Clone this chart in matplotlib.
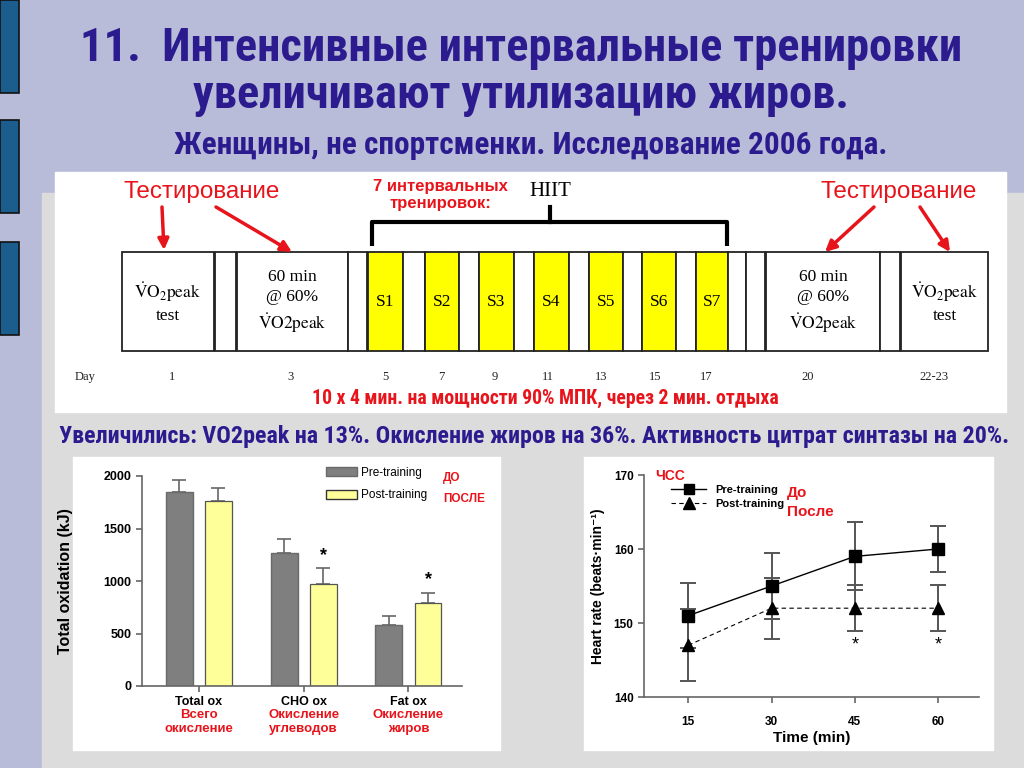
import matplotlib
matplotlib.use('Agg')
import matplotlib.pyplot as plt
from matplotlib.patches import Rectangle, Patch
from matplotlib.lines import Line2D

plt.rcParams['mathtext.fontset'] = 'stix'

W, H = 1024, 768
NARROW = ['Roboto Condensed', 'PT Sans Narrow', 'Liberation Sans', 'DejaVu Sans']
SANS = ['Liberation Sans', 'DejaVu Sans']
SERIF = ['Liberation Serif', 'DejaVu Serif']
TITLE_C = '#2b1b8f'
RED = '#e8141b'

# ---- text
title_lines = ['11.  Интенсивные интервальные тренировки',
               'увеличивают утилизацию жиров.']
subtitle = 'Женщины, не спортсменки. Исследование 2006 года.'
summary = ('Увеличились: VO2peak на 13%. Окисление жиров на 36%. '
           'Активность цитрат синтазы на 20%.')
protocol = '10 х 4 мин. на мощности 90% МПК, через 2 мин. отдыха'

# ---- timeline data
sessions = ['S1', 'S2', 'S3', 'S4', 'S5', 'S6', 'S7']
test_label = r'$\mathrm{\dot{V}O_2peak}$' + '\ntest'
steady_label = '60 min\n@ 60%\n' + r'$\mathrm{\dot{V}O2peak}$'
day_labels = ['Day', '1', '3', '5', '7', '9', '11', '13', '15', '17', '20', '22-23']

# ---- bar chart data
ox_categories = ['Total ox', 'CHO ox', 'Fat ox']
ox_categories_ru = ['Всего\nокисление', 'Окисление\nуглеводов', 'Окисление\nжиров']
ox_pre = [1850, 1265, 578]
ox_pre_err = [110, 135, 90]
ox_post = [1765, 975, 790]
ox_post_err = [120, 150, 100]
ox_signif = [False, True, True]

# ---- heart rate data
hr_time = [15, 30, 45, 60]
hr_pre = [151, 155, 159, 160]
hr_pre_err = [4.4, 4.5, 4.6, 3.1]
hr_post = [147, 152, 152, 152]
hr_post_err = [4.9, 4.1, 3.1, 3.1]
hr_signif = [False, False, True, True]

fig = plt.figure(figsize=(W / 100, H / 100), dpi=100)
bg = fig.add_axes([0, 0, 1, 1])
bg.set_xlim(0, W)
bg.set_ylim(H, 0)
bg.axis('off')

# slide background
bg.add_patch(Rectangle((0, 0), W, H, color='#b9bcd9', zorder=0))
bg.add_patch(Rectangle((42, 193), W - 42, H - 193, color='#dcdcdc', zorder=0))
for y0 in (0, 120, 242):
    bg.add_patch(Rectangle((0, y0), 19, 93, facecolor='#1b5e8e', edgecolor='#111',
                           lw=1.2, zorder=1))

# panels
bg.add_patch(Rectangle((55, 172), 951, 240, color='white', zorder=1))
bg.add_patch(Rectangle((73, 457), 427, 293, color='white', zorder=1))
bg.add_patch(Rectangle((584, 457), 409, 293, color='white', zorder=1))

# titles
bg.text(521, 48, title_lines[0], ha='center', va='center', fontsize=33.5,
        fontweight='bold', color=TITLE_C, family=NARROW)
bg.text(521, 95, title_lines[1], ha='center', va='center', fontsize=33.5,
        fontweight='bold', color=TITLE_C, family=NARROW)
bg.text(531, 145, subtitle, ha='center', va='center', fontsize=22.5,
        fontweight='bold', color=TITLE_C, family=NARROW)
bg.text(534, 437, summary, ha='center', va='center', fontsize=17.3,
        fontweight='bold', color=TITLE_C, family=NARROW)

# ---- timeline (layout in slide pixels)
tl_top, tl_bot = 252, 351
box_edges = [(122, 214), (215, 236), (237, 348), (348, 367),
             (368, 403), (403, 425), (425, 459), (459, 479), (479, 514),
             (514, 534), (534, 569), (569, 589), (589, 623), (623, 642),
             (642, 676), (676, 696), (696, 728), (728, 746), (746, 765),
             (766, 880), (880, 900), (901, 988)]
session_idx = [4, 6, 8, 10, 12, 14, 16]
labelled = {0: test_label, 2: steady_label, 19: steady_label, 21: test_label}
for i, (x0, x1) in enumerate(box_edges):
    fc = '#ffff00' if i in session_idx else 'white'
    bg.add_patch(Rectangle((x0, tl_top), x1 - x0, tl_bot - tl_top, facecolor=fc,
                           edgecolor='#222', lw=1.3, zorder=2))
    cx = (x0 + x1) / 2
    if i in session_idx:
        bg.text(cx, 302, sessions[session_idx.index(i)], ha='center', va='center',
                fontsize=12.5, family=SERIF, zorder=3)
    elif i in labelled:
        bg.text(cx, 302, labelled[i], ha='center', va='center', fontsize=12.5,
                family=SERIF, linespacing=1.35, zorder=3)

day_x = [85, 172, 291, 385, 441, 495, 548, 601, 655, 706, 808, 934]
for x, lab in zip(day_x, day_labels):
    bg.text(x, 377, lab, ha='center', va='center', fontsize=9, family=SERIF,
            color='#222', zorder=3)
bg.text(545, 398, protocol, ha='center', va='center', fontsize=14.2,
        fontweight='bold', color=RED, family=NARROW, zorder=3)

# bracket + HIIT
bg.plot([372, 372, 727, 727], [246, 222, 222, 246], color='black', lw=3,
        solid_capstyle='butt', zorder=3)
bg.plot([550, 550], [222, 207], color='black', lw=3, zorder=3)
bg.text(550, 191, 'HIIT', ha='center', va='center', fontsize=15, family=SERIF,
        zorder=3)
bg.text(440, 195, '7 интервальных\nтренировок:', ha='center', va='center',
        fontsize=12, fontweight='bold', color=RED, family=SANS, linespacing=1.1,
        zorder=3)

# testing labels with arrows
for tx in (202, 899):
    bg.text(tx, 192, 'Тестирование', ha='center', va='center', fontsize=17.5,
            color=RED, family=SANS, zorder=3)
arrows = [((162, 207), (164, 250)), ((216, 207), (292, 252)),
          ((874, 207), (825, 252)), ((920, 207), (950, 252))]
for start, end in arrows:
    bg.annotate('', xy=end, xytext=start, zorder=4,
                arrowprops=dict(arrowstyle='-|>', color=RED, lw=2.5,
                                mutation_scale=16, shrinkA=0, shrinkB=0))

# ---- bar chart
ax1 = fig.add_axes([142 / W, 1 - 686 / H, (462 - 142) / W, (686 - 476) / H])
ax1.patch.set_alpha(0)
xs = range(len(ox_categories))
off, bw = 0.186, 0.257
x_pre = [x - off for x in xs]
x_post = [x + off for x in xs]
ax1.bar(x_pre, ox_pre, bw, color='#7f7f7f', edgecolor='#6a6a6a', zorder=2)
ax1.bar(x_post, ox_post, bw, color='#ffff99', edgecolor='#555', lw=0.9, zorder=2)
ax1.errorbar(x_pre, ox_pre, yerr=[[0] * 3, ox_pre_err], fmt='none', ecolor='#666',
             capsize=5, elinewidth=1.2, capthick=1.2, zorder=1)
ax1.errorbar(x_post, ox_post, yerr=[[0] * 3, ox_post_err], fmt='none', ecolor='#666',
             capsize=5, elinewidth=1.2, capthick=1.2, zorder=1)
for x, v, e, s in zip(x_post, ox_post, ox_post_err, ox_signif):
    if s:
        ax1.text(x, v + e + 40, '*', ha='center', va='bottom', fontsize=13,
                 fontweight='bold', family=SANS)
ax1.set_xlim(-0.54, 2.51)
ax1.set_ylim(0, 2000)
ax1.set_yticks([0, 500, 1000, 1500, 2000])
ax1.set_xticks(list(xs))
ax1.set_xticklabels(ox_categories)
for sp in ('top', 'right'):
    ax1.spines[sp].set_visible(False)
for sp in ('left', 'bottom'):
    ax1.spines[sp].set_color('#666')
    ax1.spines[sp].set_linewidth(1.2)
ax1.tick_params(colors='#666', length=4, width=1.2)
for lab in ax1.get_xticklabels() + ax1.get_yticklabels():
    lab.set_fontweight('bold')
    lab.set_fontsize(9)
    lab.set_color('black')
    lab.set_family(SANS)
ax1.set_ylabel('Total oxidation (kJ)', fontsize=11.5, fontweight='bold',
               family=SANS, labelpad=22)
for x, lab in zip(xs, ox_categories_ru):
    ax1.text(x, -0.11, lab, transform=ax1.get_xaxis_transform(), ha='center',
             va='top', fontsize=9.5, fontweight='bold', color=RED, family=SANS,
             linespacing=1.25)
ax1.legend(handles=[Patch(facecolor='#7f7f7f', edgecolor='#6a6a6a'),
                    Patch(facecolor='#ffff99', edgecolor='#333')],
           labels=['Pre-training', 'Post-training'], loc='upper left',
           bbox_to_anchor=(0.575, 1.045), frameon=False,
           handlelength=2.6, handleheight=0.8, labelspacing=0.9, borderpad=0,
           borderaxespad=0, handletextpad=0.4, prop={'family': SANS, 'size': 8.5})
bg.text(443, 478, 'ДО', ha='left', va='center', fontsize=8.5, fontweight='bold',
        color=RED, family=SANS)
bg.text(443, 499, 'ПОСЛЕ', ha='left', va='center', fontsize=8.5, fontweight='bold',
        color=RED, family=SANS)

# ---- heart rate chart
ax2 = fig.add_axes([644 / W, 1 - 697 / H, (979 - 644) / W, (697 - 475) / H])
ax2.patch.set_alpha(0)
ax2.errorbar(hr_time, hr_pre, yerr=hr_pre_err, fmt='s-', color='black', ms=8,
             lw=1, ecolor='#555', elinewidth=1.4, capsize=6, capthick=1.4,
             label='Pre-training', zorder=3)
ax2.errorbar(hr_time, hr_post, yerr=hr_post_err, fmt='^--', color='black', ms=9,
             lw=0.8, ecolor='#555', elinewidth=1.4, capsize=6, capthick=1.4,
             dashes=(4, 3), label='Post-training', zorder=3)
for t, v, e, s in zip(hr_time, hr_post, hr_post_err, hr_signif):
    if s:
        ax2.text(t, v - e - 1.9, '*', ha='center', va='center', fontsize=13,
                 family=SANS)
ax2.set_xlim(7, 67.4)
ax2.set_ylim(140, 170)
ax2.set_xticks(hr_time)
ax2.set_yticks([140, 150, 160, 170])
for sp in ('top', 'right'):
    ax2.spines[sp].set_visible(False)
for sp in ('left', 'bottom'):
    ax2.spines[sp].set_color('#666')
    ax2.spines[sp].set_linewidth(1.2)
ax2.tick_params(colors='#666', length=4, width=1.2)
for lab in ax2.get_xticklabels() + ax2.get_yticklabels():
    lab.set_fontweight('bold')
    lab.set_fontsize(8.5)
    lab.set_color('black')
    lab.set_family(SANS)
ax2.tick_params(axis='x', pad=10)
ax2.set_xlabel('Time (min)', fontsize=11, fontweight='bold', family=SANS, labelpad=2)
ax2.set_ylabel('Heart rate (beats·min⁻¹)', fontsize=10, fontweight='bold',
               family=SANS, labelpad=6)
ax2.legend(handles=[Line2D([], [], color='black', marker='s', ms=7, lw=1),
                    Line2D([], [], color='black', marker='^', ms=8, lw=0.8,
                           ls=(0, (4, 3)))],
           labels=['Pre-training', 'Post-training'], loc='upper left',
           bbox_to_anchor=(0.08, 0.955), frameon=False, handlelength=3.2,
           labelspacing=0.35, borderpad=0, borderaxespad=0, handletextpad=0.8,
           prop={'family': SANS, 'size': 8, 'weight': 'bold'})
bg.text(655, 476, 'ЧСС', ha='left', va='center', fontsize=10, fontweight='bold',
        color=RED, family=SANS)
bg.text(787, 493, 'До', ha='left', va='center', fontsize=11, fontweight='bold',
        color=RED, family=SANS)
bg.text(787, 512, 'После', ha='left', va='center', fontsize=11, fontweight='bold',
        color=RED, family=SANS)

fig.savefig('out.png', dpi=100)
